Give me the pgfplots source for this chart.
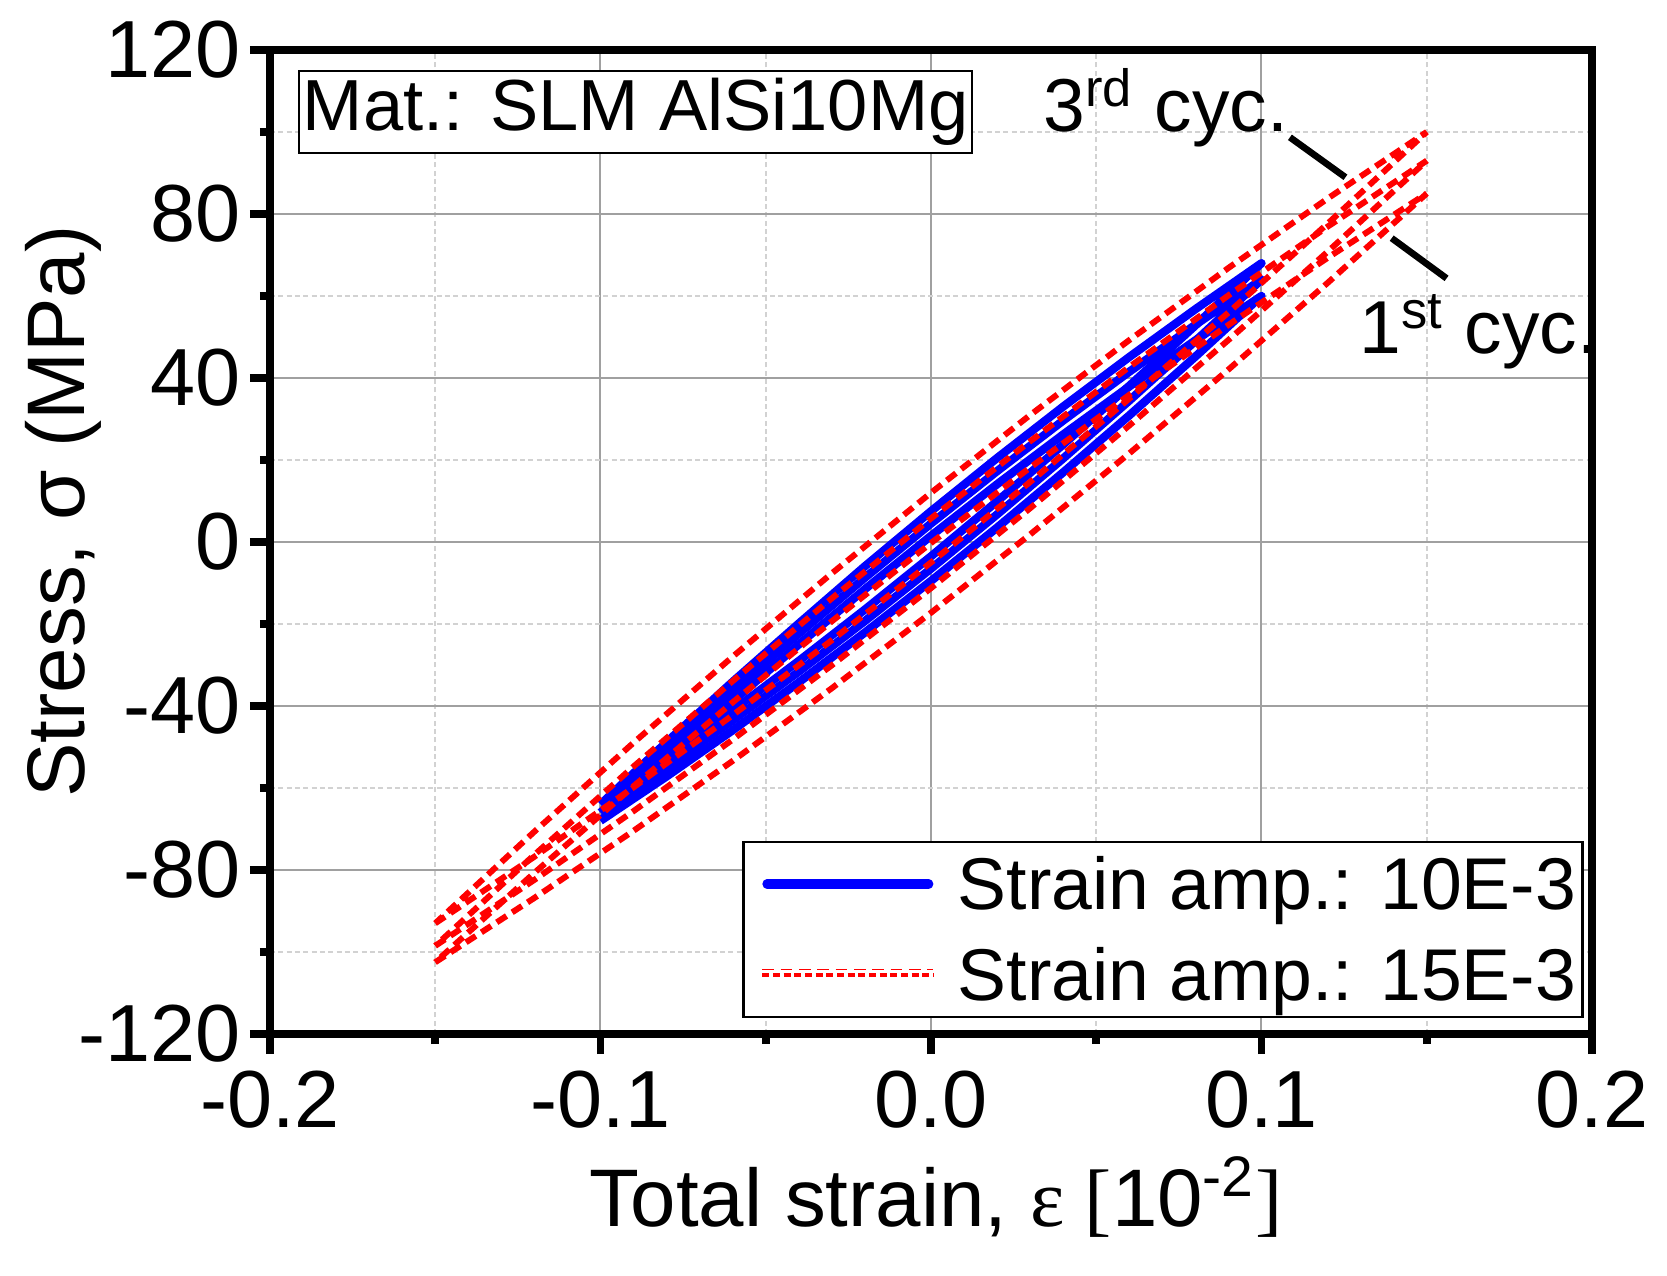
\documentclass[border=0pt]{standalone}
\usepackage{fontspec}
\setmainfont{Liberation Sans}
\newfontfamily\serif{Liberation Serif}
\usepackage{pgfplots}
\pgfplotsset{compat=1.18}
\definecolor{majgrid}{RGB}{160,160,160}
\definecolor{mingrid}{RGB}{210,210,210}
\begin{document}
\begin{tikzpicture}
\begin{axis}[
  scale only axis,
  width=396.6pt, height=295.2pt,
  xmin=-0.2, xmax=0.2, ymin=-120, ymax=120,
  clip=false,
  xtick={-0.2,-0.1,0,0.1,0.2},
  xticklabels={-0.2,-0.1,0.0,0.1,0.2},
  ytick={-120,-80,-40,0,40,80,120},
  yticklabels={-120,-80,-40,0,40,80,120},
  minor x tick num=1, minor y tick num=1,
  tick pos=left, tick align=outside,
  major tick length=6pt, minor tick length=3pt,
  tick style={line width=2.3pt, black},
  axis line style={line width=2.3pt},
  grid=both,
  major grid style={line width=0.6pt, majgrid, solid},
  minor grid style={line width=0.6pt, mingrid, dash pattern=on 1.5pt off 1pt},
  tick label style={font=\fontsize{24.3}{28}\selectfont},
  xticklabel style={anchor=north, inner sep=0pt, yshift=-5pt},
  yticklabel style={anchor=east, inner sep=0pt, xshift=-2.5pt},
  xlabel={Total strain, {\serif ε [}10\textsuperscript{-2}{\serif ]}},
  xlabel style={at={(axis description cs:0.504,-0.196)}, anchor=base, font=\fontsize{24.5}{28}\selectfont},
  ylabel={Stress, σ (MPa)},
  ylabel style={at={(axis description cs:-0.14,0.531)}, anchor=base, font=\fontsize{24.5}{28}\selectfont},
  legend cell align=left,
  legend style={at={(axis description cs:0.994,0.016)}, anchor=south east,
    draw=black, line width=0.8pt, fill=white,
    inner xsep=2pt, inner ysep=0.3pt, row sep=2.7pt, column sep=6.1pt,
    font=\fontsize{22}{26}\selectfont,
    nodes={inner sep=0pt, text height=20pt, text depth=4.6pt}},
]
\coordinate (LL) at (rel axis cs:0,0);
\coordinate (UR) at (rel axis cs:1,1);

% blue loops, strain amplitude 10E-3
\addplot[blue, line width=2.5pt, mark=none, line join=round,
  legend image code/.code={\path (-2.4pt,0pt); \path (51.3pt,0pt); \draw[blue, line width=2.8pt, line cap=round] (1.4pt,0pt) -- (49.9pt,0pt);}]
coordinates {(-0.1,-68) (-0.08,-57.18) (-0.06,-45.92) (-0.04,-34.22) (-0.02,-22.08) (0,-9.5) (0.02,3.52) (0.04,16.98) (0.06,30.88) (0.08,45.22) (0.1,60) (0.08,49.18) (0.06,37.92) (0.04,26.22) (0.02,14.08) (0,1.5) (-0.02,-11.52) (-0.04,-24.98) (-0.06,-38.88) (-0.08,-53.22) (-0.1,-68)};
\addlegendentry{Strain amp.: 10E-3}
\addplot[blue, line width=2.5pt, mark=none, line join=round, forget plot]
coordinates {(-0.1,-66) (-0.08,-54.98) (-0.06,-43.52) (-0.04,-31.62) (-0.02,-19.28) (0,-6.5) (0.02,6.72) (0.04,20.38) (0.06,34.48) (0.08,49.02) (0.1,64) (0.08,52.98) (0.06,41.52) (0.04,29.62) (0.02,17.28) (0,4.5) (-0.02,-8.72) (-0.04,-22.38) (-0.06,-36.48) (-0.08,-51.02) (-0.1,-66)};
\addplot[blue, line width=2.5pt, mark=none, line join=round, forget plot]
coordinates {(-0.1,-64) (-0.08,-52.78) (-0.06,-41.12) (-0.04,-29.02) (-0.02,-16.48) (0,-3.5) (0.02,9.92) (0.04,23.78) (0.06,38.08) (0.08,52.82) (0.1,68) (0.08,56.78) (0.06,45.12) (0.04,33.02) (0.02,20.48) (0,7.5) (-0.02,-5.92) (-0.04,-19.88) (-0.06,-34.08) (-0.08,-48.82) (-0.1,-64)};

% red loops, strain amplitude 15E-3
\addplot[red, line width=1.8pt, mark=none, dash pattern=on 3.5pt off 2pt,
  legend image code/.code={\path (-2.4pt,-1.6pt); \draw[red, line width=0.35pt] (0pt,1.5pt) -- (51.3pt,1.5pt); \draw[red, line width=1pt, dash pattern=on 2.1pt off 1.1pt] (0pt,0pt) -- (51.3pt,0pt);}]
coordinates {(-0.15,-102.5) (-0.12,-86.81) (-0.09,-70.44) (-0.06,-53.39) (-0.03,-35.66) (0,-17.25) (0.03,1.84) (0.06,21.61) (0.09,42.06) (0.12,63.19) (0.15,85) (0.12,69.31) (0.09,52.94) (0.06,35.89) (0.03,18.16) (0,-0.25) (-0.03,-19.34) (-0.06,-39.11) (-0.09,-59.56) (-0.12,-80.69) (-0.15,-102.5)};
\addlegendentry{Strain amp.: 15E-3}
\addplot[red, line width=1.8pt, mark=none, dash pattern=on 3.5pt off 2pt, forget plot]
coordinates {(-0.15,-98.5) (-0.12,-82.41) (-0.09,-65.64) (-0.06,-48.19) (-0.03,-30.06) (0,-11.25) (0.03,8.24) (0.06,28.41) (0.09,49.26) (0.12,70.79) (0.15,93) (0.12,76.91) (0.09,60.14) (0.06,42.69) (0.03,24.56) (0,5.75) (-0.03,-13.74) (-0.06,-33.91) (-0.09,-54.76) (-0.12,-76.29) (-0.15,-98.5)};
\addplot[red, line width=1.8pt, mark=none, dash pattern=on 3.5pt off 2pt, forget plot]
coordinates {(-0.15,-93) (-0.12,-76.76) (-0.09,-59.84) (-0.06,-42.24) (-0.03,-23.96) (0,-5) (0.03,14.64) (0.06,34.96) (0.09,55.96) (0.12,77.64) (0.15,100) (0.12,83.76) (0.09,66.84) (0.06,49.24) (0.03,30.96) (0,12) (-0.03,-7.64) (-0.06,-27.96) (-0.09,-48.96) (-0.12,-70.64) (-0.15,-93)};

% annotations
\node[draw, line width=0.6pt, fill=white, anchor=north west, inner xsep=1pt, inner ysep=2.2pt,
  font=\fontsize{21.7}{26}\selectfont] at (axis cs:-0.1914,115.1) {Mat.: SLM AlSi10Mg};
\draw[line width=2pt] (axis cs:0.1086,98.7) -- (axis cs:0.1254,88.95);
\draw[line width=2pt] (axis cs:0.1394,74.1) -- (axis cs:0.156,64.3);
\node[anchor=base west, inner sep=0pt, font=\fontsize{22.5}{26}\selectfont] at (axis cs:0.0339,100.1) {3\textsuperscript{rd} cyc.};
\node[anchor=base west, inner sep=0pt, font=\fontsize{22.5}{26}\selectfont] at (axis cs:0.1295,46.0) {1\textsuperscript{st} cyc.};
\end{axis}
\pgfresetboundingbox
\path[use as bounding box] ([xshift=-81pt,yshift=-72.3pt]LL) rectangle ([xshift=22.5pt,yshift=15pt]UR);
\end{tikzpicture}
\end{document}
